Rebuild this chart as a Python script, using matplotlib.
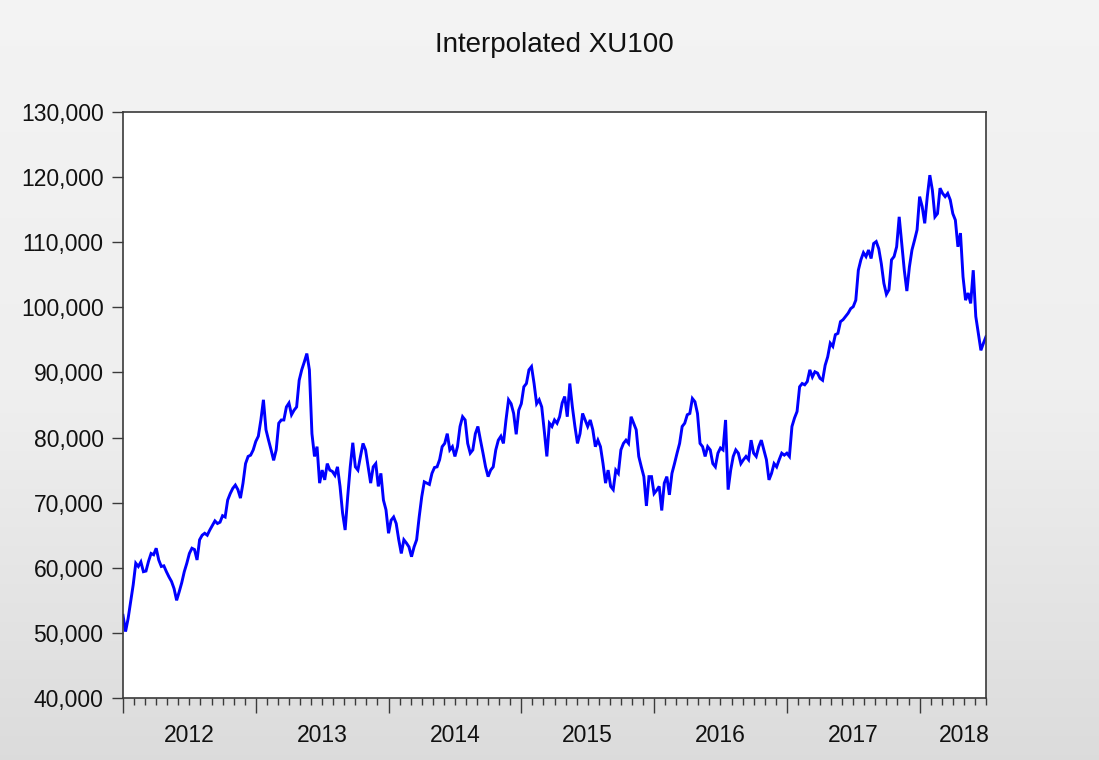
import numpy as np
import matplotlib
matplotlib.use("Agg")
import matplotlib.pyplot as plt
from matplotlib.ticker import FuncFormatter, FixedLocator
import matplotlib.transforms as mtransforms

plt.rcParams['font.family'] = ['Liberation Sans', 'DejaVu Sans']

title = "Interpolated XU100"
start_year = 2012
weeks_per_year = 52
year_labels = ["2012", "2013", "2014", "2015", "2016", "2017", "2018"]

# Weekly readings of XU100 (thousands of points), from the first week of 2012
xu100_k = [
    52.7, 50.2, 52.2, 54.8, 57.4, 60.7, 60.2, 60.9, 59.4, 59.5,
    61.0, 62.2, 62.0, 63.0, 61.2, 60.2, 60.3, 59.4, 58.6, 57.9,
    56.8, 55.0, 56.3, 57.7, 59.4, 60.7, 62.2, 63.0, 62.8, 61.2,
    64.3, 65.0, 65.3, 65.0, 65.8, 66.5, 67.2, 66.8, 67.0, 68.0,
    67.8, 70.4, 71.4, 72.2, 72.7, 72.0, 70.7, 73.0, 76.0, 77.1,
    77.3, 78.1, 79.4, 80.2, 82.7, 85.8, 81.2, 79.6, 78.1, 76.5,
    78.1, 82.2, 82.7, 82.7, 84.7, 85.3, 83.5, 84.2, 84.7, 88.8,
    90.4, 91.6, 92.9, 90.4, 80.6, 77.1, 78.6, 73.0, 75.0, 73.5,
    76.0, 75.0, 74.8, 74.2, 75.5, 72.5, 68.4, 65.8, 70.9, 75.5,
    79.2, 75.5, 75.0, 77.1, 79.1, 78.1, 75.5, 73.0, 75.5, 76.0,
    72.5, 74.5, 70.4, 68.9, 65.3, 67.3, 67.8, 66.8, 64.3, 62.2,
    64.3, 63.8, 63.2, 61.7, 63.2, 64.3, 67.8, 70.9, 73.2, 73.0,
    72.8, 74.5, 75.4, 75.5, 76.6, 78.6, 79.1, 80.6, 78.1, 78.6,
    77.1, 78.6, 81.7, 83.2, 82.7, 79.1, 77.6, 78.1, 80.6, 81.7,
    79.6, 77.6, 75.5, 74.0, 75.0, 75.5, 78.1, 79.6, 80.2, 79.1,
    82.7, 85.8, 85.2, 83.7, 80.5, 84.2, 85.2, 87.8, 88.3, 90.4,
    90.9, 88.3, 85.2, 85.8, 84.7, 81.0, 77.1, 82.2, 81.7, 82.7,
    82.2, 83.2, 85.3, 86.3, 83.2, 88.3, 84.7, 81.7, 79.1, 80.6,
    83.7, 82.7, 81.7, 82.7, 81.2, 78.6, 79.6, 78.6, 76.0, 73.0,
    75.0, 72.5, 72.0, 75.0, 74.5, 78.1, 79.1, 79.6, 79.1, 83.2,
    82.2, 81.2, 77.1, 75.5, 74.0, 69.5, 74.0, 74.0, 71.4, 71.9,
    72.5, 68.8, 73.0, 74.0, 71.2, 74.5, 76.0, 77.6, 79.1, 81.7,
    82.2, 83.5, 83.7, 86.0, 85.5, 83.7, 79.1, 78.6, 77.1, 78.6,
    78.1, 76.0, 75.5, 77.6, 78.4, 78.1, 82.7, 72.0, 75.0, 77.1,
    78.1, 77.6, 76.0, 76.6, 77.1, 76.6, 79.6, 77.6, 77.1, 78.6,
    79.6, 78.1, 76.6, 73.5, 74.5, 76.0, 75.5, 76.6, 77.6, 77.3,
    77.6, 77.1, 81.7, 83.0, 84.0, 87.8, 88.3, 88.1, 88.6, 90.4,
    89.3, 90.1, 89.9, 89.1, 88.8, 91.1, 92.4, 94.5, 94.0, 95.8,
    96.0, 97.8, 98.1, 98.6, 99.1, 99.8, 100.1, 101.1, 105.7, 107.3,
    108.4, 107.8, 108.8, 107.5, 109.8, 110.1, 109.0, 106.7, 103.7, 102.0,
    102.7, 107.3, 107.8, 109.3, 113.9, 109.8, 105.7, 102.5, 106.2, 108.8,
    110.3, 111.9, 117.0, 115.5, 112.9, 117.0, 120.3, 118.0, 113.9, 114.4,
    118.3, 117.5, 117.0, 117.5, 116.5, 114.4, 113.4, 109.3, 111.4, 104.7,
    101.1, 102.2, 100.6, 105.7, 98.6, 96.0, 93.4, 94.5, 95.5,
]

values = np.array(xu100_k) * 1000.0
t = start_year + np.arange(len(values)) / weeks_per_year

fig = plt.figure(figsize=(10.99, 7.60), dpi=100)

# background gradient
bg = fig.add_axes([0, 0, 1, 1], zorder=0)
yy = np.linspace(0, 1, 400)
shade = np.interp(yy, [0.0, 0.52, 1.0], [0.955, 0.937, 0.862])
grad = np.repeat(shade[:, None], 2, axis=1)
bg.imshow(np.dstack([grad, grad, grad]), aspect='auto', extent=[0, 1, 1, 0],
          interpolation='bilinear')
bg.set_xlim(0, 1); bg.set_ylim(1, 0)
bg.axis('off')

ax = fig.add_axes([123/1099, 1 - 698/760, (986-123)/1099, (698-112)/760], zorder=1)
ax.set_facecolor('white')
ax.plot(t, values, color='#0000ff', lw=2.1, solid_joinstyle='miter')

ax.set_xlim(t[0], t[-1])
ax.set_ylim(40000, 130000)
ax.set_yticks(np.arange(40000, 130001, 10000))
ax.yaxis.set_major_formatter(FuncFormatter(lambda v, p: f"{int(v):,}"))

n_years = len(year_labels)
major = [start_year + i for i in range(n_years) if start_year + i <= t[-1]]
minor = [start_year + m / 12 for m in range(1, 12 * n_years) if (m % 12) and start_year + m / 12 <= t[-1]]
ax.xaxis.set_major_locator(FixedLocator(major))
ax.xaxis.set_minor_locator(FixedLocator(minor))
ax.set_xticklabels([])

for s in ax.spines.values():
    s.set_color('#3a3a3a')
    s.set_linewidth(1.2)

ax.tick_params(axis='y', which='major', direction='out', length=8, width=1.0,
               color='#3a3a3a', labelsize=16.5, pad=6, labelcolor='#111111')
ax.tick_params(axis='x', which='major', direction='out', length=11, width=1.0, color='#3a3a3a')
ax.tick_params(axis='x', which='minor', direction='out', length=5, width=1.0, color='#3a3a3a')
ax.tick_params(top=False, right=False)

trans = mtransforms.blended_transform_factory(ax.transData, ax.transAxes)
label_pos = [start_year + i + 0.5 for i in range(n_years - 1)] + [start_year + n_years - 1 + 0.335]
for lab, xp in zip(year_labels, label_pos):
    ax.text(xp, -0.064, lab, transform=trans, ha='center', va='center',
            fontsize=16.5, color='#111111')

fig.text(554.5/1099, 1 - 45/760, title, ha='center', va='center',
         fontsize=20, color='#111111')

fig.savefig("out.png", dpi=100)
